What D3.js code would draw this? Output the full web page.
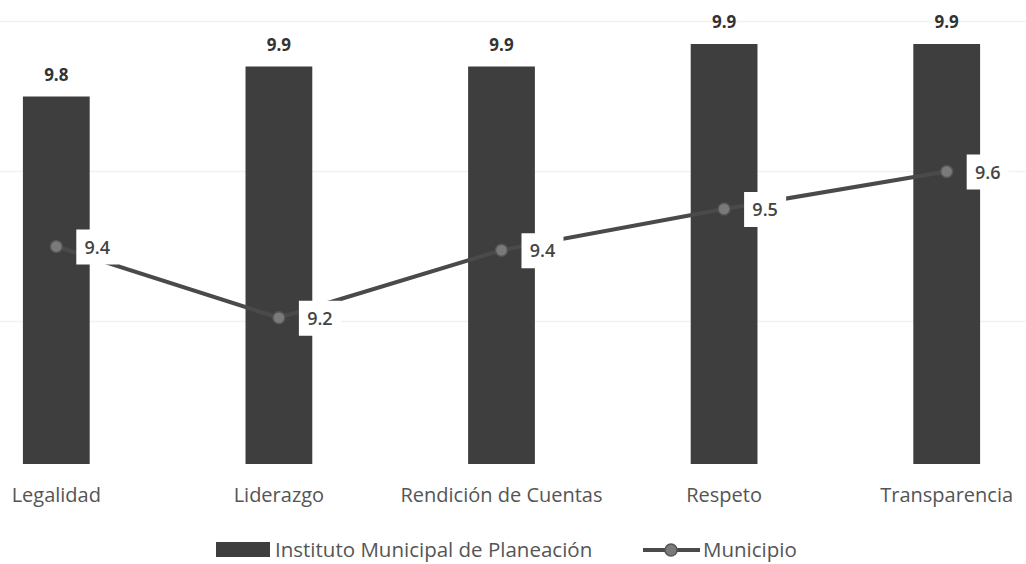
<!DOCTYPE html>
<html>
<head>
<meta charset="utf-8">
<script src="https://cdn.jsdelivr.net/npm/d3@7"></script>
<style>
  html, body { margin: 0; padding: 0; background: #ffffff; }
  svg { display: block; }
</style>
</head>
<body>
<svg id="chart" width="1026" height="564"></svg>
<script>
const categories = ["Legalidad", "Liderazgo", "Rendición de Cuentas", "Respeto", "Transparencia"];
const institutoValues = [9.8, 9.88, 9.88, 9.94, 9.94];
const municipioValues = [9.4, 9.21, 9.39, 9.5, 9.6];
const gridTicks = [9.2, 9.6, 10.0];
const seriesNames = ["Instituto Municipal de Planeación", "Municipio"];

const svg = d3.select("#chart");
const FONT = "'Open Sans', sans-serif";

const x = d3.scaleBand().domain(categories).range([-55, 1058]).paddingInner(0.7).paddingOuter(0.35);
const yMin = 8.82;
const y = d3.scaleLinear().domain([yMin, 10.0]).range([464, 21.5]);
const fmt = d3.format(".1f");
const cx = d => x(d) + x.bandwidth() / 2;

// faint gridlines
svg.append("g").selectAll("line").data(gridTicks).join("line")
  .attr("x1", 0).attr("x2", 1026)
  .attr("y1", d => y(d)).attr("y2", d => y(d))
  .attr("stroke", "#f2f2f2").attr("stroke-width", 1.5);

// bars
svg.append("g").selectAll("rect").data(categories).join("rect")
  .attr("x", d => x(d))
  .attr("width", x.bandwidth())
  .attr("y", (d, i) => y(institutoValues[i]))
  .attr("height", (d, i) => y(yMin) - y(institutoValues[i]))
  .attr("fill", "#3e3e3e");

// bar labels
svg.append("g").selectAll("text").data(categories).join("text")
  .attr("x", d => cx(d))
  .attr("y", (d, i) => y(institutoValues[i]) - 16)
  .attr("text-anchor", "middle")
  .attr("font-family", FONT).attr("font-weight", "bold").attr("font-size", 17)
  .attr("fill", "#333")
  .text((d, i) => fmt(institutoValues[i]));

// line
const line = d3.line().x(d => cx(d[0])).y(d => y(d[1]));
const pts = categories.map((c, i) => [c, municipioValues[i]]);
svg.append("path").datum(pts)
  .attr("d", line)
  .attr("fill", "none").attr("stroke", "#4a4a4a").attr("stroke-width", 4)
  .attr("stroke-linejoin", "round");

svg.append("g").selectAll("circle").data(pts).join("circle")
  .attr("cx", d => cx(d[0])).attr("cy", d => y(d[1]))
  .attr("r", 6).attr("fill", "#7a7a7a").attr("stroke", "#555").attr("stroke-width", 1.5);

// line labels with white boxes
const lbl = svg.append("g").selectAll("g").data(pts).join("g")
  .attr("transform", d => `translate(${cx(d[0]) + 20},${y(d[1])})`);
lbl.append("rect").attr("x", 0).attr("y", -17).attr("width", 42).attr("height", 35).attr("fill", "#fff");
lbl.append("text").attr("x", 21).attr("y", 7).attr("text-anchor", "middle")
  .attr("font-family", FONT).attr("font-size", 18).attr("font-weight", "600").attr("fill", "#444")
  .text(d => fmt(d[1]));

// category labels
svg.append("g").selectAll("text").data(categories).join("text")
  .attr("x", d => cx(d)).attr("y", 502)
  .attr("text-anchor", "middle")
  .attr("font-family", FONT).attr("font-size", 20).attr("fill", "#555")
  .text(d => d);

// legend
const leg = svg.append("g");
leg.append("rect").attr("x", 216).attr("y", 542).attr("width", 54).attr("height", 15).attr("fill", "#3e3e3e");
leg.append("text").attr("x", 275).attr("y", 557)
  .attr("font-family", FONT).attr("font-size", 20.5).attr("fill", "#555").text(seriesNames[0]);
leg.append("line").attr("x1", 643).attr("x2", 700).attr("y1", 550).attr("y2", 550)
  .attr("stroke", "#4a4a4a").attr("stroke-width", 4);
leg.append("circle").attr("cx", 671).attr("cy", 550).attr("r", 6)
  .attr("fill", "#7a7a7a").attr("stroke", "#555").attr("stroke-width", 1.5);
leg.append("text").attr("x", 703).attr("y", 557)
  .attr("font-family", FONT).attr("font-size", 20.5).attr("fill", "#555").text(seriesNames[1]);
</script>
</body>
</html>
